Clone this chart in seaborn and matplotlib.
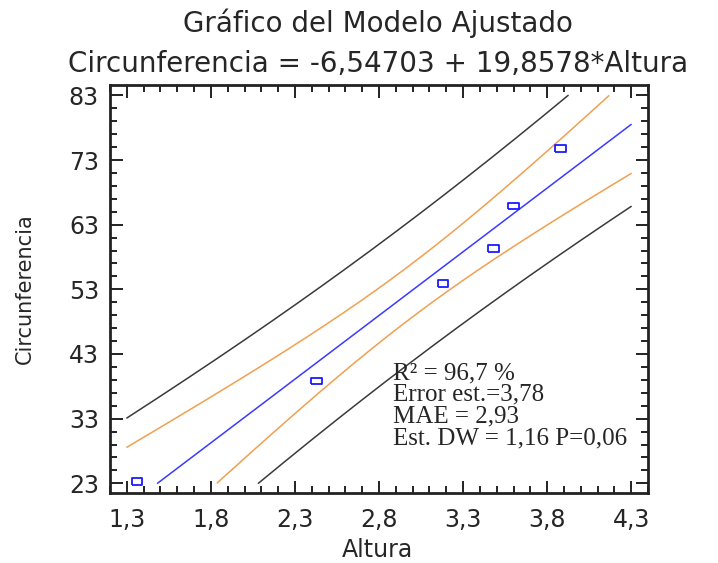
import numpy as np
import matplotlib
matplotlib.use("Agg")
import matplotlib.pyplot as plt
import seaborn as sns
import pandas as pd

# datos
altura = [1.36, 2.43, 3.18, 3.48, 3.60, 3.88]
circunferencia = [23.3, 38.8, 53.9, 59.3, 65.9, 74.8]

x_ticks = [1.3, 1.8, 2.3, 2.8, 3.3, 3.8, 4.3]
x_tick_labels = ["1,3", "1,8", "2,3", "2,8", "3,3", "3,8", "4,3"]
y_ticks = [23, 33, 43, 53, 63, 73, 83]
y_tick_labels = ["23", "33", "43", "53", "63", "73", "83"]

titulo = "Gráfico del Modelo Ajustado"
subtitulo = "Circunferencia = -6,54703 + 19,8578*Altura"
resumen = ["R² = 96,7 %", "Error est.=3,78", "MAE = 2,93", "Est. DW = 1,16 P=0,06"]

t_crit = 2.776  # t(0.975, 4 gl)

sns.set_style("ticks")
plt.rcParams['font.family'] = ['DejaVu Sans']

df = pd.DataFrame({'Altura': altura, 'Circunferencia': circunferencia})
x = df['Altura'].values
y = df['Circunferencia'].values
n = len(x)
b1, b0 = np.polyfit(x, y, 1)
resid = y - (b0 + b1 * x)
s = np.sqrt(np.sum(resid ** 2) / (n - 2))
sxx = np.sum((x - x.mean()) ** 2)

xs = np.linspace(x_ticks[0], x_ticks[-1], 1201)
fit = b0 + b1 * xs
hw_conf = t_crit * s * np.sqrt(1 / n + (xs - x.mean()) ** 2 / sxx)
hw_pred = t_crit * s * np.sqrt(1 + 1 / n + (xs - x.mean()) ** 2 / sxx)


def recorta(v):
    v = v.copy()
    v[(v < y_ticks[0]) | (v > y_ticks[-1])] = np.nan
    return v


fig = plt.figure(figsize=(7.18, 5.63), dpi=100)
ax = fig.add_axes([110 / 718, 1 - 493 / 563, 538 / 718, 408 / 563])

negro = "#3a3a3a"
naranja = "#f0a050"
azul = "#3a3aff"
for curva, color in [(fit + hw_pred, negro), (fit - hw_pred, negro),
                     (fit + hw_conf, naranja), (fit - hw_conf, naranja),
                     (fit, azul)]:
    ax.plot(xs, recorta(curva), color=color, lw=1.1)

caja = [(-1, -0.6), (1, -0.6), (1, 0.6), (-1, 0.6), (-1, -0.6)]
sns.scatterplot(data=df, x='Altura', y='Circunferencia', ax=ax, marker=caja,
                s=60, facecolor='none', edgecolor='#1a1aff', linewidth=1.3, zorder=5)

ax.set_xlim(1.2, 4.4)
ax.set_ylim(21.5, 84.6)
ax.set_xticks(x_ticks)
ax.set_xticklabels(x_tick_labels)
ax.set_yticks(y_ticks)
ax.set_yticklabels(y_tick_labels)
ax.set_xticks(np.arange(1.2, 4.41, 0.1), minor=True)
ax.set_yticks(np.arange(23, 84, 2), minor=True)
ax.tick_params(which='both', direction='in', top=True, right=True, color='#222222', width=1.4)
ax.tick_params(which='major', length=9, labelsize=17, pad=8)
ax.tick_params(which='minor', length=5)
ax.tick_params(axis='x', pad=11)
for sp in ax.spines.values():
    sp.set_linewidth(2.0)
    sp.set_color('#222222')

ax.set_xlabel("Altura", fontsize=17)
ax.set_ylabel("Circunferencia", fontsize=15)
ax.xaxis.set_label_coords(0.497, -0.139)
ax.xaxis.label.set_va('center')
ax.yaxis.set_label_coords(-0.158, 0.5)
ax.yaxis.label.set_va('center')

fig.text(378 / 718, 1 - 23 / 563, titulo, ha='center', va='center', fontsize=20)
fig.text(378 / 718, 1 - 64 / 563, subtitulo, ha='center', va='center', fontsize=20)

fig.text(393 / 718, 1 - 362 / 563, "\n".join(resumen), ha='left', va='top',
         fontsize=18, family='Liberation Serif', linespacing=0.98)

fig.savefig("out.png", dpi=100)
